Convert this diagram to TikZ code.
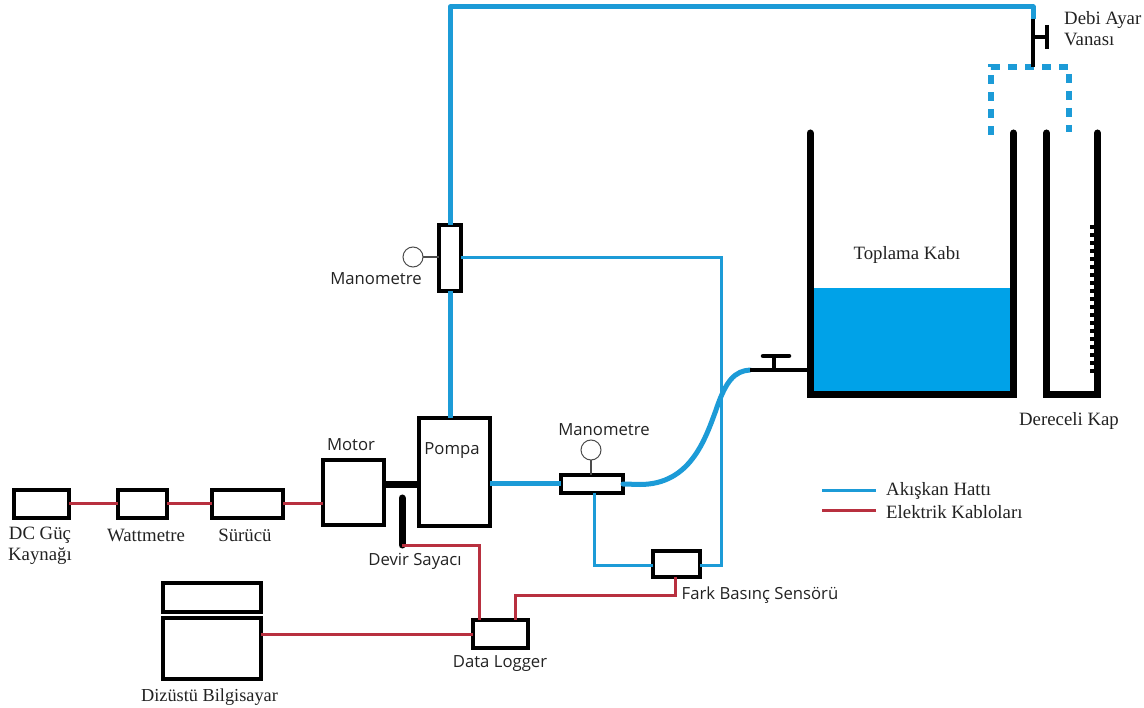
\documentclass[tikz,border=0pt]{standalone}
\usepackage{fontspec}
\setmainfont{Liberation Serif}
\newfontfamily\uifont{Open Sans}
\definecolor{pipeblue}{HTML}{1C9BD7}
\definecolor{waterblue}{HTML}{00A2E8}
\definecolor{wirered}{HTML}{B8303F}
\definecolor{txt}{HTML}{222222}
\tikzset{
  box/.style={draw=black,line width=4.5pt,inner sep=0pt,outer sep=0pt,minimum width=#1},
  box/.default=50pt,
  main/.style={draw=pipeblue,line width=5pt},
  thin/.style={draw=pipeblue,line width=3pt},
  wire/.style={draw=wirered,line width=3pt},
  blk/.style={draw=black,line width=4.5pt},
  wall/.style={draw=black,line width=7pt,line cap=round,line join=miter},
  gauge/.style={circle,draw=black!70,line width=1pt,minimum size=20pt,inner sep=0pt,outer sep=0pt},
  stem/.style={draw=black!70,line width=1.2pt},
  serif/.style={font=\fontsize{18.8}{21}\selectfont,text=txt,inner sep=0pt,align=center},
  ui/.style={font=\uifont\fontsize{16.7}{19}\selectfont,text=txt,inner sep=0pt,align=center},
}
\begin{document}
\begin{tikzpicture}[x=1pt,y=-1pt]
\useasboundingbox (0,0) rectangle (1144,708);
% water
\fill[waterblue] (813,288) rectangle (1010,392);
% boxes
\node[box=55pt,minimum height=28pt] (dc) at (41.5,504) {};
\node[box=49pt,minimum height=28pt] (watt) at (142.5,504) {};
\node[box=71pt,minimum height=28pt] (sur) at (247.5,504) {};
\node[box=61pt,minimum height=65pt] (motor) at (353.5,492.5) {};
\node[box=71pt,minimum height=108pt] (pompa) at (454.5,472) {};
\node[box=22pt,minimum height=66pt] (manA) at (450,258) {};
\node[box=62pt,minimum height=18pt] (manB) at (592,484) {};
\node[box=47pt,minimum height=26pt] (fark) at (676.5,564) {};
\node[box=55pt,minimum height=28pt] (log) at (500.5,634) {};
\node[box=98pt,minimum height=29pt] (lapT) at (212,597.5) {};
\node[box=98pt,minimum height=61pt] (lapB) at (212,648.5) {};
\node[gauge] (gA) at (413,257) {};
\node[gauge] (gB) at (591,450) {};
% named connector points
\coordinate (topL) at (450,7);
\coordinate (topR) at (1033,7);
\coordinate (vTop) at (1033,19);
\coordinate (vBot) at (1033,67);
\coordinate (vMid) at (1033,37);
\coordinate (vHand) at (1047,37);
\coordinate (dsA) at (991,135);
\coordinate (dsB) at (991,67);
\coordinate (dsC) at (1069,67);
\coordinate (dsD) at (1069,132);
\coordinate (pipeEnd) at (750,370);
\coordinate (tapEnd) at (808,370);
\coordinate (tapStem) at (774,370);
\coordinate (tapTop) at (774,356);
\coordinate (sensTop) at (402,498);
\coordinate (sensBot) at (402,545);
% main lines
\draw[main] (pompa.north -| manA.south) -- (manA.south);
\draw[main,line join=round] (manA.north) -- (topL) -- (topR) -- (vTop);
\draw[main] (pompa.east |- manB.west) -- (manB.west);
\draw[main,line cap=round] (manB.east) -- (640,484.5)
  .. controls (690,484.5) and (705,440) .. (716,410)
  .. controls (726,380) and (735,371) .. (pipeEnd);
% thin lines
\draw[thin] (manA.east) -- (721,258) -- (721,565) -- (fark.east |- 721,565);
\draw[thin] (manB.south -| 594,0) -- (594,565) -- (fark.west |- 594,565);
% dashed part
\draw[pipeblue,line width=5.5pt,dash pattern=on 9pt off 8pt] (dsA) -- (dsB) -- (dsC) -- (dsD);
% valve
\draw[blk] (vTop) -- (vBot);
\draw[blk] (vMid) -- (vHand);
\draw[blk] (1047,25) -- (1047,49);
% tap
\draw[blk,line width=4pt] (pipeEnd) -- (tapEnd);
\draw[blk,line width=3.5pt] (tapStem) -- (tapTop);
\draw[blk,line cap=round] (763,356) -- (789,356);
% tanks
\draw[wall] (810,133) -- (810,395) -- (1013.5,395) -- (1013.5,133);
\draw[wall] (1046.5,133) -- (1046.5,395) -- (1097.5,395) -- (1097.5,133);
\draw[black,line width=4pt,dash pattern=on 4.4pt off 3.6pt] (1092,225) -- (1092,376);
% shaft and speed sensor
\draw[black,line width=7pt] (motor.east |- 0,485) -- (pompa.west |- 0,485);
\draw[black,line width=7pt,line cap=round] (sensTop) -- (sensBot);
% wires
\draw[wire] (dc.east) -- (watt.west);
\draw[wire] (watt.east) -- (sur.west);
\draw[wire] (sur.east) -- (motor.west |- sur.east);
\draw[wire] (sensBot) -- (479,545) -- (log.north -| 479,0);
\draw[wire] (log.north -| 515,0) -- (515,595) -- (675,595) -- (fark.south -| 675,0);
\draw[wire] (lapB.east |- 0,634) -- (log.west);
% gauge stems
\draw[stem] (gA.east) -- (manA.west |- gA.east);
\draw[stem] (gB.south) -- (gB.south |- manB.north);
% legend
\coordinate (lgA) at (822,491);
\coordinate (lgB) at (876,491);
\coordinate (lgC) at (822,511);
\coordinate (lgD) at (876,511);
\draw[thin] (lgA) -- (lgB);
\draw[wire] (lgC) -- (lgD);
% labels
\node[serif] (tDC) at (40,546) {DC Güç\\Kaynağı};
\node[serif] (tW) at (146,535) {Wattmetre};
\node[serif] (tS) at (245,535) {Sürücü};
\node[ui] (tM) at (351,445) {Motor};
\node[ui] (tP) at (452,451) {Pompa};
\node[ui] (tD) at (415,561) {Devir Sayacı};
\node[ui] (tMB) at (604,430) {Manometre};
\node[ui] (tMA) at (376,279) {Manometre};
\node[serif] (tT) at (907,255) {Toplama Kabı};
\node[serif] (tK) at (1069,421) {Dereceli Kap};
\node[serif,anchor=west] (tV1) at (1064,20) {Debi Ayar};
\node[serif,anchor=west] (tV2) at (1064,39) {Vanası};
\node[ui] (tF) at (760,595) {Fark Basınç Sensörü};
\node[ui] (tL) at (500,664) {Data Logger};
\node[serif,font=\fontsize{18.3}{21}\selectfont] (tB) at (209.5,697) {Dizüstü Bilgisayar};
\node[serif,anchor=west] (tA) at (886,491) {Akışkan Hattı};
\node[serif,anchor=west] (tE) at (886,512) {Elektrik Kabloları};
\end{tikzpicture}
\end{document}
